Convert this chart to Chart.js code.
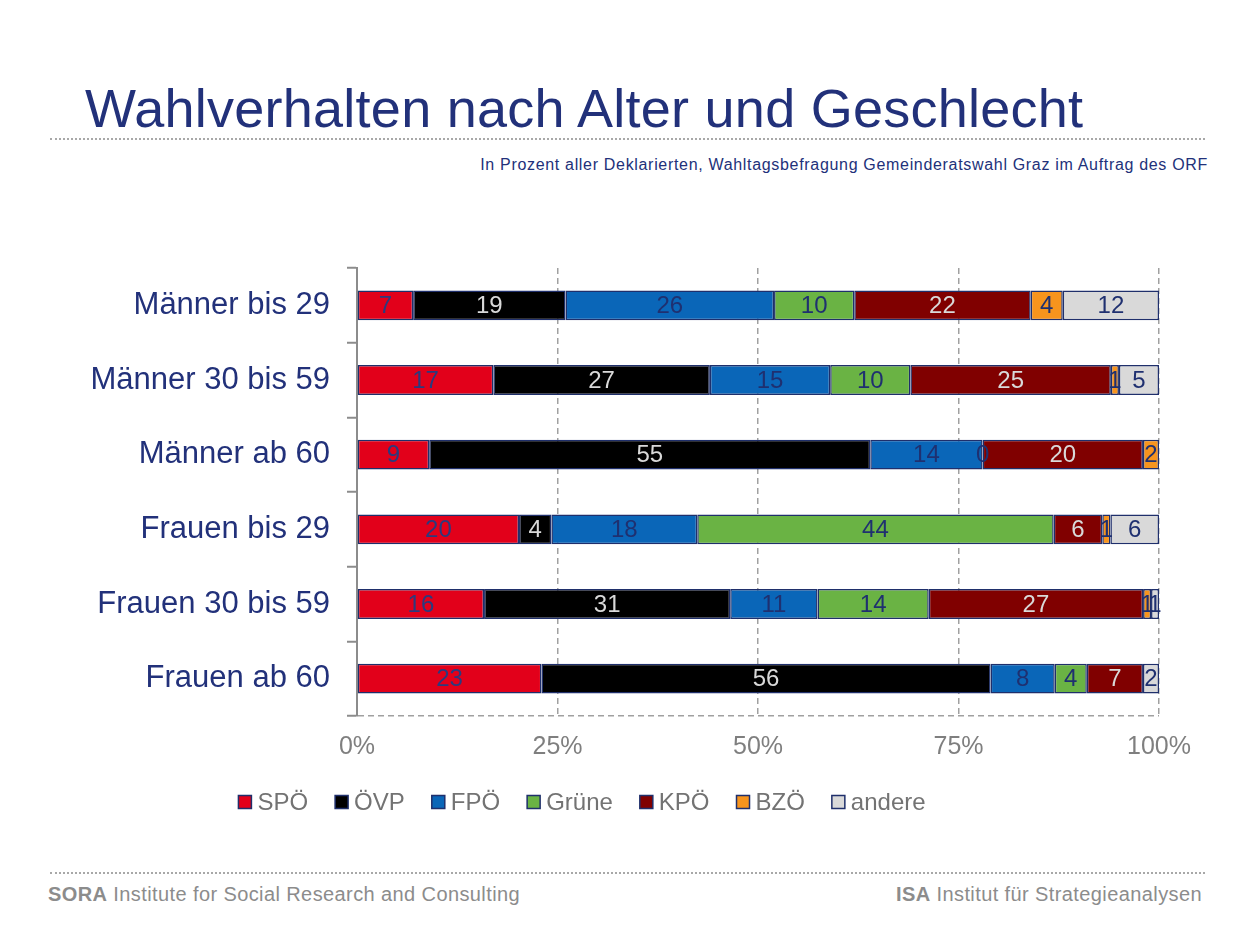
<!DOCTYPE html>
<html>
<head>
<meta charset="utf-8">
<script src="https://cdn.jsdelivr.net/npm/chart.js@4/dist/chart.umd.min.js"></script>
<style>
  body { margin: 0; background: #fff; font-family: "Liberation Sans", Arial, sans-serif; }
  #page { position: relative; width: 1253px; height: 935px; overflow: hidden; }
  .title { position: absolute; left: 85px; top: 81px; font-size: 54px; letter-spacing: 0.25px; line-height: 1; color: #22317a; white-space: nowrap; }
  .sub { position: absolute; right: 45px; top: 157px; font-size: 16px; letter-spacing: 0.68px; line-height: 1; color: #22317a; white-space: nowrap; }
  .dots { position: absolute; left: 50px; width: 1155px; border-top: 2px dotted #a8a8a8; }
  .foot { position: absolute; top: 884px; font-size: 20px; letter-spacing: 0.4px; line-height: 1; color: #8c8c8c; white-space: nowrap; }
  #chart { position: absolute; left: 0; top: 250px; }
</style>
</head>
<body>
<div id="page">
  <div class="title">Wahlverhalten nach Alter und Geschlecht</div>
  <div class="dots" style="top:138px"></div>
  <div class="sub">In Prozent aller Deklarierten, Wahltagsbefragung Gemeinderatswahl Graz im Auftrag des ORF</div>
  <canvas id="chart" width="1253" height="591"></canvas>
  <div class="dots" style="top:872px"></div>
  <div class="foot" style="left:48px"><b>SORA</b> Institute for Social Research and Consulting</div>
  <div class="foot" style="right:51px"><b>ISA</b> Institut für Strategieanalysen</div>
</div>
<script>
"use strict";

// rows of the chart
const groups = ['Männer bis 29', 'Männer 30 bis 59', 'Männer ab 60', 'Frauen bis 29', 'Frauen 30 bis 59', 'Frauen ab 60'];

// percentages per party (as printed), null = no segment/label
const spoe   = [7, 17, 9, 20, 16, 23];
const oevp   = [19, 27, 55, 4, 31, 56];
const fpoe   = [26, 15, 14, 18, 11, 8];
const gruene = [10, 10, 0, 44, 14, 4];
const kpoe   = [22, 25, 20, 6, 27, 7];
const bzoe   = [4, 1, 2, 1, 1, null];
const andere = [12, 5, null, 6, 1, 2];

const xTicks = [0, 25, 50, 75, 100];

const parties = [
    { label: 'SPÖ',    data: spoe,   color: '#e2001a', text: '#2b3a7e' },
    { label: 'ÖVP',    data: oevp,   color: '#000000', text: '#d9d9d9' },
    { label: 'FPÖ',    data: fpoe,   color: '#0a66b8', text: '#1f3070' },
    { label: 'Grüne',  data: gruene, color: '#6ab344', text: '#1f3070' },
    { label: 'KPÖ',    data: kpoe,   color: '#800000', text: '#d9d9d9' },
    { label: 'BZÖ',    data: bzoe,   color: '#f7941d', text: '#1f3070' },
    { label: 'andere', data: andere, color: '#d9d9d9', text: '#1f3070' }
];

// 100% stacked: scale every row by its own total
const rowSums = groups.map((g, i) => parties.reduce((s, p) => s + (p.data[i] || 0), 0));

const navy = '#1f2f6b';
const axisGray = '#8c8c8c';
const fontFamily = '"Liberation Sans", Arial, sans-serif';

//--------------------------------segment labels---------------------------------
const segmentLabels = {
    id: 'segmentLabels',
    afterDatasetsDraw(chart) {
        const ctx = chart.ctx;
        ctx.save();
        ctx.font = '24px ' + fontFamily;
        ctx.textAlign = 'center';
        ctx.textBaseline = 'middle';
        parties.forEach((p, di) => {
            const meta = chart.getDatasetMeta(di);
            meta.data.forEach((bar, i) => {
                const v = p.data[i];
                if (v === null) return;
                ctx.fillStyle = p.text;
                ctx.fillText(String(v), (bar.x + bar.base) / 2, bar.y + 1);
            });
        });
        ctx.restore();
    }
};

//--------------------------------legend row---------------------------------
// box 13px, 6px to the text, 27px between items, centred under the plot
const legendRow = {
    id: 'legendRow',
    afterDraw(chart) {
        const ctx = chart.ctx;
        ctx.save();
        ctx.font = '24px ' + fontFamily;
        ctx.textBaseline = 'middle';
        const widths = parties.map(p => 19 + ctx.measureText(p.label).width);
        const total = widths.reduce((a, b) => a + b, 0) + 27 * (parties.length - 1);
        const y = chart.chartArea.bottom + 86;
        let x = 582 - total / 2;
        parties.forEach((p, i) => {
            ctx.fillStyle = p.color;
            ctx.fillRect(x, y - 6.5, 13, 13);
            ctx.strokeStyle = navy;
            ctx.lineWidth = 1.5;
            ctx.strokeRect(x, y - 6.5, 13, 13);
            ctx.fillStyle = '#737373';
            ctx.fillText(p.label, x + 19, y + 1);
            x += widths[i] + 27;
        });
        ctx.restore();
    }
};

const chartCtx = document.getElementById('chart').getContext('2d');
const chartVotes = new Chart(chartCtx, {
    type: 'bar',
    data: {
        labels: groups,
        datasets: parties.map(p => ({
            label: p.label,
            data: p.data.map((v, i) => v === null ? null : v / rowSums[i] * 100),
            backgroundColor: p.color,
            borderColor: navy,
            borderWidth: 1.5,
            borderSkipped: false,
            barPercentage: 0.4,
            categoryPercentage: 1
        }))
    },
    options: {
        indexAxis: 'y',
        responsive: false,
        animation: false,
        devicePixelRatio: 1,
        layout: { padding: { left: 5, right: 94, top: 18, bottom: 78 } },
        plugins: {
            tooltip: { enabled: false },
            legend: { display: false }
        },
        scales: {
            x: {
                stacked: true,
                min: 0,
                max: 100,
                afterBuildTicks: scale => { scale.ticks = xTicks.map(v => ({ value: v })); },
                afterFit: scale => {
                    scale.height = 47;
                    scale.paddingLeft = 0;
                    scale.paddingRight = 0;
                },
                grid: {
                    color: c => c.index === 0 ? 'transparent' : '#a0a0a0',
                    lineWidth: 1.5,
                    drawTicks: false
                },
                border: { display: false, dash: [6, 4] },
                ticks: {
                    padding: 16,
                    color: '#7f7f7f',
                    font: { size: 25, family: fontFamily },
                    callback: v => v + '%'
                }
            },
            y: {
                stacked: true,
                afterFit: scale => {
                    scale.width = 352;
                    scale.paddingTop = 0;
                    scale.paddingBottom = 0;
                },
                grid: {
                    offset: true,
                    // only the closing line under the last row (scale context, no tick) is drawn
                    color: c => c.tick ? 'transparent' : '#a0a0a0',
                    lineWidth: 1.5,
                    tickColor: axisGray,
                    tickWidth: 2,
                    tickLength: 10
                },
                border: { display: true, color: axisGray, width: 2, dash: [6, 4] },
                ticks: {
                    padding: 17,
                    color: '#22317a',
                    font: { size: 31, family: fontFamily }
                }
            }
        }
    },
    plugins: [segmentLabels, legendRow]
});
</script>
</body>
</html>
